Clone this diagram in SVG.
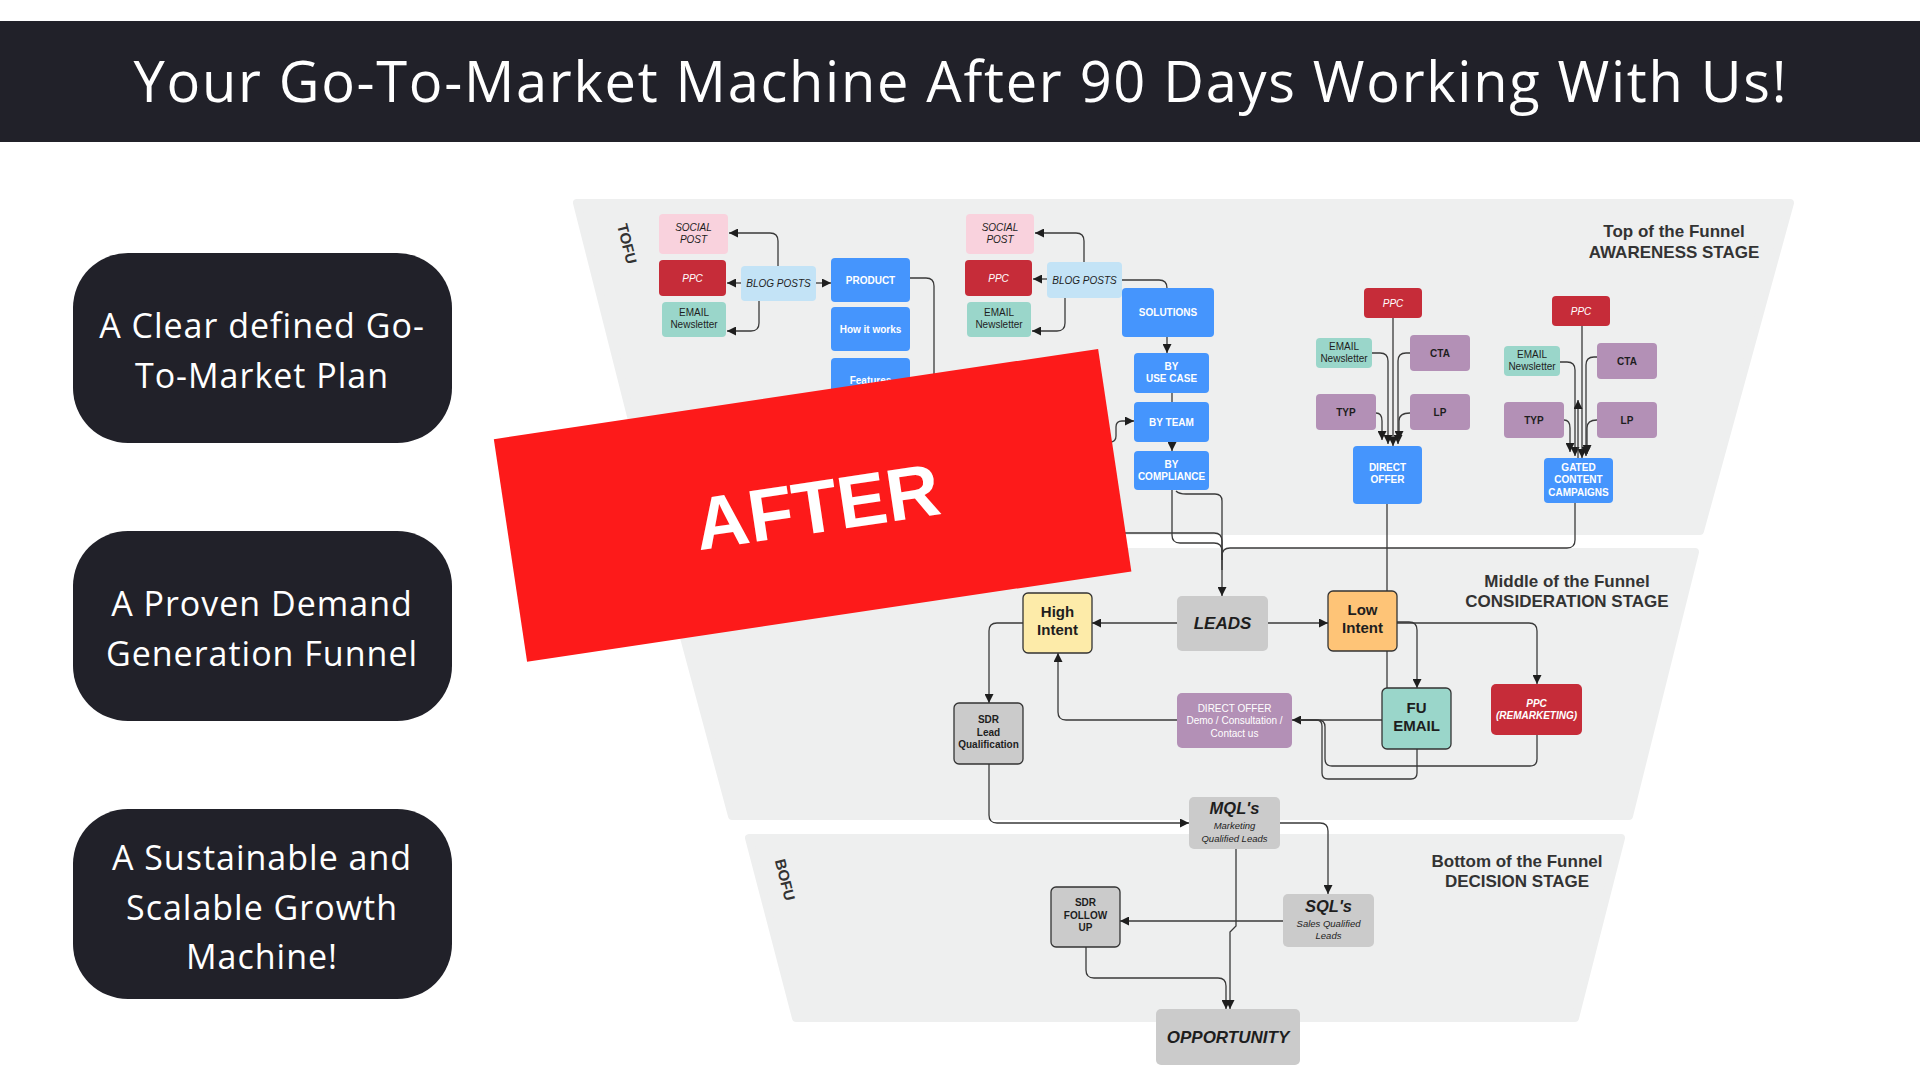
<svg xmlns="http://www.w3.org/2000/svg" width="1920" height="1080" viewBox="0 0 1920 1080">
<defs>
<marker id="ah" viewBox="0 0 10 10" refX="10" refY="5" markerWidth="9" markerHeight="9" markerUnits="userSpaceOnUse" orient="auto"><path d="M0,0 L10,5 L0,10 z" fill="#1e1e1e"/></marker>
<style>
text{font-family:"Liberation Sans",Arial,sans-serif}
.t{font-size:10px;text-anchor:middle}
.i{font-style:italic}
.b{font-weight:bold}
.w{fill:#fff}
.k{fill:#1e1e1e}
.pink{fill:#f9d2dd}
.red{fill:#c62c39}
.teal{fill:#9ad6ca}
.lb{fill:#c3e3f6}
.blue{fill:#4595fd}
.pur{fill:#b390b6}
.org{fill:#fec477}
.yel{fill:#fdeba9}
.gr{fill:#cbcbcb}
.bd{stroke:#333;stroke-width:1.3}
.funnel{fill:#eeefef;stroke:#eeefef;stroke-width:8;stroke-linejoin:round}
.stage{font-size:17px;font-weight:bold;fill:#333;text-anchor:middle}
.side{font-family:"Open Sans","Liberation Sans",sans-serif;font-size:34px;fill:#fff;text-anchor:middle;letter-spacing:1px}
#connectors path{fill:none;stroke:#3a3a3a;stroke-width:1.3}
#connectors path.a{marker-end:url(#ah)}
</style>
</defs>
<rect width="1920" height="1080" fill="#fff"/>
<rect x="0" y="21" width="1920" height="121" fill="#212129"/>
<text x="960" y="102" textLength="1653" lengthAdjust="spacing" style="font-family:'Open Sans','Liberation Sans',sans-serif;font-size:56px;fill:#fff;text-anchor:middle">Your Go-To-Market Machine After 90 Days Working With Us!</text>

<g id="side-boxes">
<g id="box1"><rect x="73" y="253" width="379" height="190" rx="55" fill="#212129"/>
<text class="side" x="262" y="338">A Clear defined Go-</text><text class="side" x="262" y="388">To-Market Plan</text></g>
<g id="box2"><rect x="73" y="531" width="379" height="190" rx="55" fill="#212129"/>
<text class="side" x="262" y="616">A Proven Demand</text><text class="side" x="262" y="666">Generation Funnel</text></g>
<g id="box3"><rect x="73" y="809" width="379" height="190" rx="55" fill="#212129"/>
<text class="side" x="262" y="870">A Sustainable and</text><text class="side" x="262" y="920">Scalable Growth</text><text class="side" x="262" y="969">Machine!</text></g>
</g>

<g id="funnel">
<path class="funnel" d="M577 203 L1790 203 L1700 531 L660 531 Z"/>
<path class="funnel" d="M661 552 L1695 552 L1629 816 L732 816 Z"/>
<path class="funnel" d="M749 838 L1621 838 L1575 1018 L796 1018 Z"/>
<text class="stage" x="1674" y="237">Top of the Funnel</text>
<text class="stage" x="1674" y="258">AWARENESS STAGE</text>
<text class="stage" x="1567" y="587">Middle of the Funnel</text>
<text class="stage" x="1567" y="607">CONSIDERATION STAGE</text>
<text class="stage" x="1517" y="867">Bottom of the Funnel</text>
<text class="stage" x="1517" y="887">DECISION STAGE</text>
<text transform="translate(622,245) rotate(76)" style="font-size:15px;font-weight:bold;fill:#333;text-anchor:middle">TOFU</text>
<text transform="translate(780,881) rotate(76)" style="font-size:15px;font-weight:bold;fill:#333;text-anchor:middle">BOFU</text>
</g>

<g id="connectors">
<path class="a" d="M778 266 V241 q0 -8 -8 -8 H729"/>
<path class="a" d="M741 283 H727"/>
<path class="a" d="M816 283 H831"/>
<path class="a" d="M759 301 V323 q0 8 -8 8 H727"/>
<path class="a" d="M1084 262 V241 q0 -8 -8 -8 H1035"/>
<path class="a" d="M1047 279 H1033"/>
<path class="a" d="M1065 298 V323 q0 8 -8 8 H1032"/>
<path d="M1122 280 H1159 q8 0 8 8"/>
<path class="a" d="M1167 337 V353"/>
<path d="M1172 393 V402"/>
<path class="a" d="M1172 442 V451"/>
<path d="M910 278 H926 q8 0 8 8 V525 q0 8 8 8 H1214 q8 0 8 8 V560"/>
<path class="a" d="M1098 442 H1110 q6 0 6 -6 V427 q0 -6 6 -6 H1134"/>
<path d="M1172 490 V535 q0 8 8 8 H1214 q8 0 8 8 V560"/>
<path class="a" d="M1176 491 q3 3 10 3 H1215 q7 0 7 7 V596"/>
<path d="M1575 503 V540 q0 8 -8 8 H1230 q-8 0 -8 8 V570"/>
<path d="M1387 504 V688"/>
<path class="a" d="M1393 318 V446"/>
<path class="a" d="M1372 353 H1380 q8 0 8 8 V444"/>
<path class="a" d="M1410 353 H1406 q-8 0 -8 8 V444"/>
<path class="a" d="M1376 413 q6 0 6 8 V440"/>
<path class="a" d="M1410 413 q-11 0 -11 8 V440"/>
<path class="a" d="M1582 326 V458"/>
<path class="a" d="M1560 362 H1567 q8 0 8 8 V456"/>
<path class="a" d="M1597 357 H1594 q-8 0 -8 8 V456"/>
<path class="a" d="M1564 420 q6 0 6 8 V452"/>
<path class="a" d="M1597 420 q-10 0 -10 8 V454"/>
<path class="a" d="M1578 458 V400"/>
<path class="a" d="M1177 623 H1092"/>
<path class="a" d="M1268 623 H1328"/>
<path class="a" d="M1023 623 H997 q-8 0 -8 8 V703"/>
<path class="a" d="M1177 720 H1066 q-8 0 -8 -8 V653"/>
<path class="a" d="M1397 622 H1409 q8 0 8 8 V688"/>
<path class="a" d="M1397 623 H1529 q8 0 8 8 V684"/>
<path class="a" d="M1382 720 H1292"/>
<path d="M1417 749 V773 q0 6 -6 6 H1328 q-6 0 -6 -6 V726 q0 -6 -6 -6 H1300"/>
<path d="M1537 735 V759 q0 7 -7 7 H1332 q-7 0 -7 -7 V727 q0 -7 -7 -7 H1300"/>
<path class="a" d="M989 764 V815 q0 8 8 8 H1189"/>
<path class="a" d="M1280 823 H1320 q8 0 8 8 V894"/>
<path class="a" d="M1283 921 H1120"/>
<path class="a" d="M1236 849 V926 L1230 932 V1009"/>
<path class="a" d="M1086 947 V970 q0 8 8 8 H1218 q8 0 8 8 V1009"/>
</g>

<g id="n-social1"><rect class="pink" x="659" y="214" width="69" height="40" rx="4"/><text class="t i k"><tspan x="693.5" y="231">SOCIAL</tspan><tspan x="693.5" y="243">POST</tspan></text></g>
<g id="n-ppc1"><rect class="red" x="659" y="260" width="67" height="36" rx="4"/><text class="t i w" x="692.5" y="281.5">PPC</text></g>
<g id="n-email1"><rect class="teal" x="662" y="302" width="64" height="35" rx="4"/><text class="t k"><tspan x="694" y="316">EMAIL</tspan><tspan x="694" y="328">Newsletter</tspan></text></g>
<g id="n-blog1"><rect class="lb" x="741" y="266" width="75" height="35" rx="4"/><text class="t i k" x="778.5" y="287">BLOG POSTS</text></g>
<g id="n-product"><rect class="blue" x="831" y="258" width="79" height="44" rx="4"/><text class="t b w" x="870.5" y="283.5">PRODUCT</text></g>
<g id="n-how"><rect class="blue" x="831" y="307" width="79" height="44" rx="4"/><text class="t b w" x="870.5" y="332.5">How it works</text></g>
<g id="n-features"><rect class="blue" x="831" y="358" width="79" height="44" rx="4"/><text class="t b w" x="870.5" y="383.5">Features</text></g>
<g id="n-social2"><rect class="pink" x="966" y="214" width="68" height="40" rx="4"/><text class="t i k"><tspan x="1000" y="231">SOCIAL</tspan><tspan x="1000" y="243">POST</tspan></text></g>
<g id="n-ppc2"><rect class="red" x="965" y="260" width="67" height="36" rx="4"/><text class="t i w" x="998.5" y="281.5">PPC</text></g>
<g id="n-email2"><rect class="teal" x="967" y="302" width="64" height="35" rx="4"/><text class="t k"><tspan x="999" y="316">EMAIL</tspan><tspan x="999" y="328">Newsletter</tspan></text></g>
<g id="n-blog2"><rect class="lb" x="1047" y="262" width="75" height="36" rx="4"/><text class="t i k" x="1084.5" y="283.5">BLOG POSTS</text></g>
<g id="n-solutions"><rect class="blue" x="1122" y="288" width="92" height="49" rx="4"/><text class="t b w" x="1168" y="316">SOLUTIONS</text></g>
<g id="n-usecase"><rect class="blue" x="1134" y="353" width="75" height="40" rx="4"/><text class="t b w"><tspan x="1171.5" y="370">BY</tspan><tspan x="1171.5" y="382">USE CASE</tspan></text></g>
<g id="n-team"><rect class="blue" x="1134" y="402" width="75" height="40" rx="4"/><text class="t b w" x="1171.5" y="425.5">BY TEAM</text></g>
<g id="n-compliance"><rect class="blue" x="1134" y="451" width="75" height="39" rx="4"/><text class="t b w"><tspan x="1171.5" y="468">BY</tspan><tspan x="1171.5" y="480">COMPLIANCE</tspan></text></g>

<g id="n-ppc3"><rect class="red" x="1364" y="288" width="58" height="30" rx="4"/><text class="t i w" x="1393" y="306.5">PPC</text></g>
<g id="n-email3"><rect class="teal" x="1316" y="338" width="56" height="30" rx="4"/><text class="t k"><tspan x="1344" y="350">EMAIL</tspan><tspan x="1344" y="362">Newsletter</tspan></text></g>
<g id="n-cta3"><rect class="pur" x="1410" y="335" width="60" height="36" rx="4"/><text class="t b k" x="1440" y="356.5">CTA</text></g>
<g id="n-typ3"><rect class="pur" x="1316" y="394" width="60" height="36" rx="4"/><text class="t b k" x="1346" y="415.5">TYP</text></g>
<g id="n-lp3"><rect class="pur" x="1410" y="394" width="60" height="36" rx="4"/><text class="t b k" x="1440" y="415.5">LP</text></g>
<g id="n-direct"><rect class="blue" x="1353" y="446" width="69" height="58" rx="4"/><text class="t b w"><tspan x="1387.5" y="471">DIRECT</tspan><tspan x="1387.5" y="483">OFFER</tspan></text></g>

<g id="n-ppc4"><rect class="red" x="1552" y="296" width="58" height="30" rx="4"/><text class="t i w" x="1581" y="314.5">PPC</text></g>
<g id="n-email4"><rect class="teal" x="1504" y="346" width="56" height="30" rx="4"/><text class="t k"><tspan x="1532" y="358">EMAIL</tspan><tspan x="1532" y="370">Newsletter</tspan></text></g>
<g id="n-cta4"><rect class="pur" x="1597" y="343" width="60" height="36" rx="4"/><text class="t b k" x="1627" y="364.5">CTA</text></g>
<g id="n-typ4"><rect class="pur" x="1504" y="402" width="60" height="36" rx="4"/><text class="t b k" x="1534" y="423.5">TYP</text></g>
<g id="n-lp4"><rect class="pur" x="1597" y="402" width="60" height="36" rx="4"/><text class="t b k" x="1627" y="423.5">LP</text></g>
<g id="n-gated"><rect class="blue" x="1544" y="458" width="69" height="45" rx="4"/><text class="t b w"><tspan x="1578.5" y="471">GATED</tspan><tspan x="1578.5" y="483">CONTENT</tspan><tspan x="1578.5" y="496">CAMPAIGNS</tspan></text></g>

<g id="n-high"><rect class="yel bd" x="1023" y="593" width="69" height="60" rx="5"/><text class="b k" style="font-size:15px;text-anchor:middle"><tspan x="1057.5" y="617">High</tspan><tspan x="1057.5" y="635">Intent</tspan></text></g>
<g id="n-leads"><rect class="gr" x="1177" y="596" width="91" height="55" rx="5"/><text class="b i k" x="1222.5" y="629" style="font-size:17px;text-anchor:middle">LEADS</text></g>
<g id="n-low"><rect class="org bd" x="1328" y="591" width="69" height="60" rx="5"/><text class="b k" style="font-size:15px;text-anchor:middle"><tspan x="1362.5" y="615">Low</tspan><tspan x="1362.5" y="633">Intent</tspan></text></g>
<g id="n-sdrlq"><rect class="gr bd" x="954" y="703" width="69" height="61" rx="5"/><text class="t b k"><tspan x="988.5" y="723">SDR</tspan><tspan x="988.5" y="735.5">Lead</tspan><tspan x="988.5" y="748">Qualification</tspan></text></g>
<g id="n-doffer"><rect class="pur" x="1177" y="693" width="115" height="55" rx="5"/><text class="t w"><tspan x="1234.5" y="711.5">DIRECT OFFER</tspan><tspan x="1234.5" y="724">Demo / Consultation /</tspan><tspan x="1234.5" y="736.5">Contact us</tspan></text></g>
<g id="n-fu"><rect class="teal bd" x="1382" y="688" width="69" height="61" rx="5"/><text class="b k" style="font-size:15px;text-anchor:middle"><tspan x="1416.5" y="713">FU</tspan><tspan x="1416.5" y="731">EMAIL</tspan></text></g>
<g id="n-ppcr"><rect class="red" x="1491" y="684" width="91" height="51" rx="5"/><text class="t b i w"><tspan x="1536.5" y="707">PPC</tspan><tspan x="1536.5" y="719">(REMARKETING)</tspan></text></g>
<g id="n-mql"><rect class="gr" x="1189" y="797" width="91" height="52" rx="5"/><text class="b i k" x="1234.5" y="814" style="font-size:16.5px;text-anchor:middle">MQL's</text><text class="t i k" style="font-size:9.5px"><tspan x="1234.5" y="829">Marketing</tspan><tspan x="1234.5" y="842">Qualified Leads</tspan></text></g>
<g id="n-sql"><rect class="gr" x="1283" y="894" width="91" height="53" rx="5"/><text class="b i k" x="1328.5" y="912" style="font-size:16.5px;text-anchor:middle">SQL's</text><text class="t i k" style="font-size:9.5px"><tspan x="1328.5" y="927">Sales Qualified</tspan><tspan x="1328.5" y="939">Leads</tspan></text></g>
<g id="n-sdrfu"><rect class="gr bd" x="1051" y="887" width="69" height="60" rx="5"/><text class="t b k"><tspan x="1085.5" y="906">SDR</tspan><tspan x="1085.5" y="918.5">FOLLOW</tspan><tspan x="1085.5" y="931">UP</tspan></text></g>
<g id="n-opp"><rect class="gr" x="1156" y="1009" width="144" height="56" rx="5"/><text class="b i k" x="1228" y="1043" style="font-size:17px;text-anchor:middle">OPPORTUNITY</text></g>

<g id="after-banner">
<rect x="-305.5" y="-112.5" width="611" height="225" fill="#fd1a1a" transform="translate(812.6,505.3) rotate(-8.5)"/>
<text transform="translate(821,532) rotate(-8.5)" style="font-family:'Liberation Sans',Arial,sans-serif;font-weight:bold;font-size:74px;fill:#fff;text-anchor:middle">AFTER</text>
</g>
</svg>
